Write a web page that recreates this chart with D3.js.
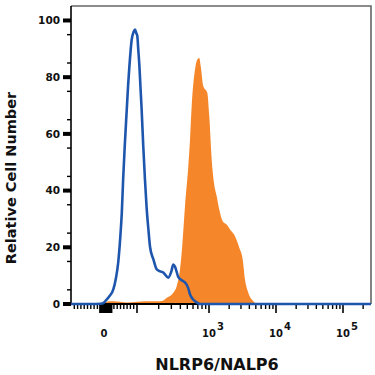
<!DOCTYPE html>
<html>
<head>
<meta charset="utf-8">
<script src="https://cdn.jsdelivr.net/npm/d3@7"></script>
<style>
  html, body { margin: 0; padding: 0; background: #fff; }
  text { font-family: "DejaVu Sans", sans-serif; font-weight: bold; fill: #111; }
</style>
</head>
<body>
<div id="chart"></div>
<script>
// isotype control (blue outline) : [intensity, relative count]
const controlData = [
  [-100, 0], [-40, 0], [-10, 0.1], [0, 0.5], [8, 1.6], [18, 3], [28, 5.1], [36, 9],
  [43, 14.6], [49, 23], [54, 32.3], [58, 43.9], [63, 56], [69, 68.6], [73, 77],
  [77, 83.9], [84, 93.3], [90, 96], [94, 96.8], [98, 95.5], [101, 94.5], [104, 90],
  [108, 83.9], [112, 76], [116, 68.6], [122, 56], [129, 43.9], [136, 34], [144, 26.3],
  [152, 20], [169, 15.7], [188, 12.2], [210, 11.5], [232, 11.1], [272, 9.3], [300, 11.5],
  [319, 13.9], [337, 13.2], [375, 9.5], [440, 8], [464, 7.6], [516, 5.5], [545, 3.4],
  [606, 1.5], [639, 1], [710, 0.2], [750, 0], [262000, 0]
]
// NLRP6 stained sample (orange filled)
const sampleData = [
  [0, 0], [5, 0.5], [15, 1], [30, 1], [48, 0.8], [70, 0.5], [100, 0.8], [130, 1],
  [152, 1], [208, 1], [232, 1.2], [259, 2.2], [287, 2.8], [320, 4], [356, 6.3],
  [390, 11], [417, 18], [440, 26], [464, 34.5], [516, 48.6], [545, 58], [575, 69.8],
  [639, 82.7], [688, 86.2], [733, 86.8], [767, 83.9], [834, 76.8], [947, 74.5],
  [1010, 66.2], [1097, 51], [1188, 42.7], [1303, 38], [1459, 32.2], [1601, 29.2],
  [1836, 28], [2057, 26.3], [2443, 23.9], [2833, 19.8], [3184, 15.7], [3444, 8.6],
  [3857, 4], [4581, 1], [5152, 0]
]
const xLabels = [
  { v: 0, base: '0', exp: '' },
  { v: 1000, base: '10', exp: '3' },
  { v: 10000, base: '10', exp: '4' },
  { v: 100000, base: '10', exp: '5' }
]
const yLabels = [0, 20, 40, 60, 80, 100]
const xTitle = 'NLRP6/NALP6'
const yTitle = 'Relative Cell Number'

const W = 375, H = 375
const pLeft = 71, pRight = 371, pTop = 6, pBottom = 304

const svg = d3.select('#chart').append('svg')
  .attr('width', W).attr('height', H)

// biexponential-like display: linear near zero, log above 100
const biex = v => v >= 100 ? Math.log10(v) : v / 50
const xT = d3.scaleLinear()
  .domain([-100, 0, 100, 1e3, 1e4, 1e5, 262144].map(biex))
  .range([pLeft, 104, 137, 209, 276, 343, pRight])
const x = v => xT(biex(v))
const y = d3.scaleLinear().domain([0, 105]).range([pBottom, pTop + 0.3])

svg.append('clipPath').attr('id', 'plot')
  .append('rect').attr('x', pLeft).attr('y', pTop).attr('width', pRight - pLeft).attr('height', pBottom - pTop + 3)

// frame (top / right)
svg.append('path')
  .attr('d', `M${pLeft},${pTop}H${pRight}V${pBottom}`)
  .attr('fill', 'none').attr('stroke', '#666').attr('stroke-width', 1.6)

// sample area
svg.append('path')
  .attr('clip-path', 'url(#plot)')
  .attr('d', d3.area().x(d => x(d[0])).y0(y(0)).y1(d => y(d[1])).curve(d3.curveMonotoneX)(sampleData))
  .attr('fill', '#f5862a')

// x axis
const gx = svg.append('g')
gx.append('line').attr('x1', pLeft).attr('x2', pRight).attr('y1', pBottom).attr('y2', pBottom)
  .attr('stroke', '#000').attr('stroke-width', 2)
const majorX = [0, 100, 1e3, 1e4, 1e5]
const minorX = []
for (let k = 1; k <= 9; k++) { minorX.push(k * 10, -k * 10) }
;[100, 1000, 10000].forEach(d => { for (let k = 2; k <= 9; k++) minorX.push(k * d) })
minorX.push(200000)
const zeroBlock = d3.range(-12, 24, 1)
gx.selectAll('.minor').data(minorX).join('line')
  .attr('x1', d => x(d)).attr('x2', d => x(d)).attr('y1', pBottom).attr('y2', pBottom + 5)
  .attr('stroke', '#000').attr('stroke-width', 1.4)
gx.selectAll('.major').data(majorX.concat(zeroBlock)).join('line')
  .attr('x1', d => x(d)).attr('x2', d => x(d)).attr('y1', pBottom).attr('y2', pBottom + 9)
  .attr('stroke', '#000').attr('stroke-width', 1.6)
xLabels.forEach(l => {
  const t = svg.append('text')
    .attr('x', x(l.v)).attr('y', 337)
    .attr('font-size', 10).attr('text-anchor', l.exp ? 'start' : 'middle')
  if (l.exp) {
    t.attr('x', x(l.v) - 7)
    t.append('tspan').text(l.base)
    t.append('tspan').attr('dx', 1).attr('dy', -7).text(l.exp)
  } else {
    t.text(l.base)
  }
})

// y axis
const gy = svg.append('g')
gy.append('line').attr('x1', pLeft).attr('x2', pLeft).attr('y1', pTop).attr('y2', pBottom)
  .attr('stroke', '#000').attr('stroke-width', 1.6)
gy.selectAll('.minor').data(d3.range(5, 105, 10)).join('line')
  .attr('x1', pLeft - 4).attr('x2', pLeft).attr('y1', d => y(d)).attr('y2', d => y(d))
  .attr('stroke', '#000').attr('stroke-width', 1.4)
gy.selectAll('.major').data(yLabels).join('rect')
  .attr('x', pLeft - 8).attr('y', d => y(d) - 2).attr('width', 8).attr('height', 4)
  .attr('fill', '#000')
gy.selectAll('text').data(yLabels).join('text')
  .attr('x', 60).attr('y', d => y(d)).attr('dy', '0.36em')
  .attr('text-anchor', 'end').attr('font-size', 10.5).text(d => d)

// control line
svg.append('path')
  .attr('clip-path', 'url(#plot)')
  .attr('d', d3.line().x(d => x(d[0])).y(d => y(d[1])).curve(d3.curveMonotoneX)(controlData))
  .attr('fill', 'none').attr('stroke', '#1f56ad').attr('stroke-width', 2.6)
  .attr('stroke-linejoin', 'round')

// titles
svg.append('text')
  .attr('x', 217).attr('y', 370).attr('text-anchor', 'middle')
  .attr('font-size', 16).text(xTitle)
svg.append('text')
  .attr('transform', 'translate(16,178) rotate(-90)').attr('text-anchor', 'middle')
  .attr('font-size', 14.5).text(yTitle)
</script>
</body>
</html>
